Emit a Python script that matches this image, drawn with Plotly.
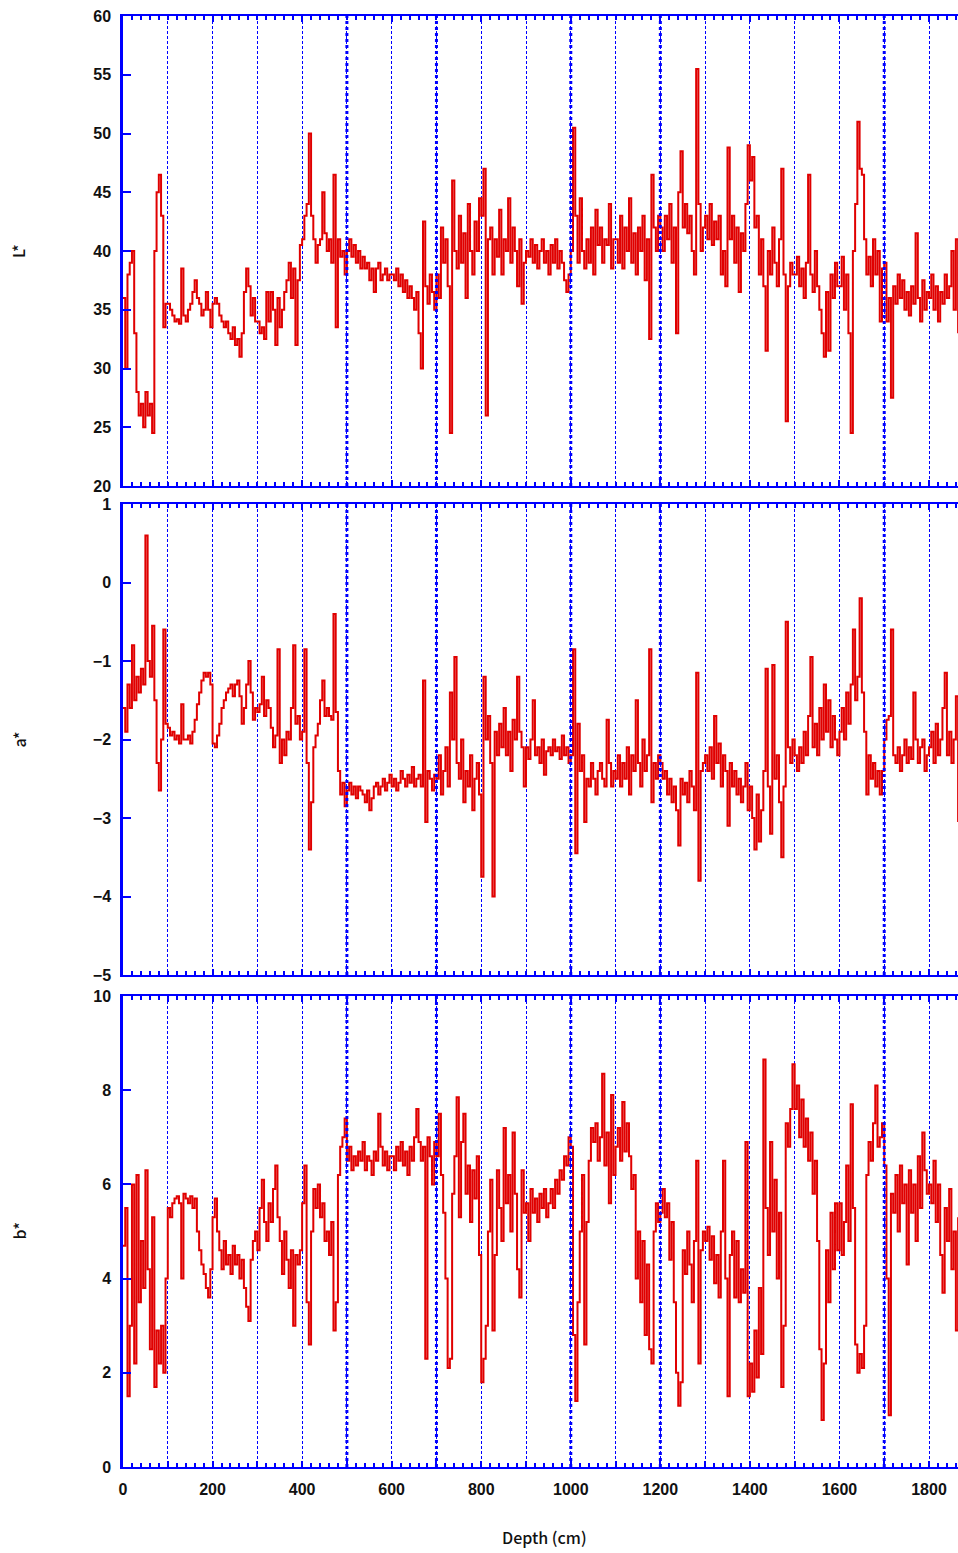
import plotly.graph_objects as go
from plotly.subplots import make_subplots

# Colour measurements down the core, one reading every 5 cm (0 - 1865 cm)
L_star = [
    36, 30, 38, 39, 40, 33, 28, 26, 27, 25, 28, 26, 27, 24.5, 40, 45, 46.5, 43, 33.5, 35.5,
    35.5, 35, 34.5, 34, 34.2, 33.8, 38.5, 34.5, 34, 35, 35.5, 36.5, 37.5, 36, 35.5, 34.5, 35, 36.5, 35, 33.5,
    35.5, 36, 35.5, 34.5, 34, 33.5, 34, 33, 32.5, 33.5, 32, 32.5, 31, 33, 36.5, 38.5, 37, 34.5, 36, 34,
    34, 33, 33.5, 32.5, 36.5, 34, 36.5, 35, 32, 36, 33.5, 35, 36.5, 37.5, 39, 36, 38.5, 32, 37.5, 40.5,
    41, 43, 44, 50, 43, 41, 39, 40.5, 41, 45, 41.5, 40, 41, 39, 46.5, 33.5, 41, 39.5, 40, 38,
    40, 41, 39.5, 40.5, 39, 40, 38.5, 39.5, 38.5, 39, 37.5, 38.5, 36.5, 38.5, 39, 37.5, 38, 38.5, 37.5, 38,
    38, 37.5, 38.5, 37, 38, 36.5, 37.5, 36, 37, 36, 35, 36.5, 33, 30, 42.5, 37, 35.5, 38, 36.5, 35,
    38, 36, 42, 39, 41, 37, 24.5, 46, 40, 38.5, 43, 39, 41.5, 36, 44, 40, 38, 42.5, 40, 44.5,
    43, 47, 26, 41, 42, 38, 41, 39.5, 43.5, 38, 41, 40, 44.5, 39, 42, 40, 37, 41, 35.5, 39,
    40, 39.5, 41, 39, 40.5, 38.5, 40, 41, 39, 40, 38, 40.5, 39, 41, 38.5, 40, 39, 37.5, 36.5, 38,
    40, 50.5, 43, 39, 44.5, 40, 38.5, 41, 39, 42, 38, 43.5, 40.5, 42, 39, 41, 40.5, 44, 38.5, 41,
    41, 39, 43, 38.5, 42, 40, 44.5, 39, 41.5, 38, 42, 40, 43, 37.5, 41, 32.5, 46.5, 42, 40, 43,
    42, 40, 43, 41, 44, 39, 42, 33, 45, 48.5, 42, 44, 41.5, 43, 40, 38, 55.5, 44, 40, 42,
    43, 41, 44, 40.5, 42.5, 41, 43, 38, 40, 37, 48.8, 41, 43, 39, 42, 36.5, 41.5, 40, 44, 49,
    46, 48, 42, 43, 38, 41, 37, 31.5, 40, 38, 42, 39, 37, 41, 47, 38, 25.5, 37, 39, 38,
    38, 39.5, 37, 38.5, 36, 39, 46.5, 38, 36.5, 40, 37, 35, 33, 31, 36.5, 31.5, 38, 36, 39, 37,
    37, 39.5, 35, 38, 33, 24.5, 40, 44, 51, 47, 46.5, 41, 38, 39.5, 37, 41, 38, 40, 34, 38.5,
    39, 34, 36, 27.5, 37, 35.5, 38, 36, 37.5, 35, 36.5, 34.5, 37, 35.5, 41.5, 36, 34, 37.5, 35, 36.5,
    36, 38, 35, 37, 34, 36.5, 35.5, 38, 36, 37, 40, 35, 41, 33,
]

a_star = [
    -1.6, -1.9, -1.3, -1.6, -0.8, -1.5, -1.2, -1.4, -1.1, -1.3, 0.6, -1.0, -1.2, -0.55, -1.5, -2.3, -2.65, -2.0, -0.6, -1.8,
    -1.85, -1.95, -1.9, -2.0, -1.95, -2.05, -1.55, -2.0, -2.0, -1.95, -2.05, -1.9, -1.75, -1.55, -1.4, -1.25, -1.15, -1.2, -1.15, -1.3,
    -2.05, -2.1, -1.95, -1.8, -1.6, -1.5, -1.4, -1.35, -1.3, -1.45, -1.3, -1.25, -1.45, -1.8, -1.6, -1.3, -1.0, -1.4, -1.75, -1.6,
    -1.65, -1.55, -1.2, -1.7, -1.5, -1.6, -1.85, -2.1, -1.95, -0.85, -2.3, -2.0, -2.2, -1.9, -2.0, -1.6, -0.8, -1.8, -1.7, -2.0,
    -1.9, -0.85, -2.3, -3.4, -2.8, -2.1, -1.95, -1.8, -1.5, -1.25, -1.7, -1.6, -1.7, -1.75, -0.4, -1.65, -2.4, -2.7, -2.55, -2.85,
    -2.65, -2.55, -2.7, -2.6, -2.75, -2.6, -2.65, -2.7, -2.8, -2.65, -2.9, -2.75, -2.6, -2.55, -2.7, -2.6, -2.5, -2.65, -2.55, -2.45,
    -2.6, -2.5, -2.65, -2.55, -2.4, -2.5, -2.6, -2.45, -2.55, -2.35, -2.6, -2.5, -2.45, -2.6, -1.25, -3.05, -2.4, -2.5, -2.65, -2.45,
    -2.5, -2.2, -2.7, -2.4, -2.1, -2.6, -1.4, -2.0, -0.95, -2.3, -2.5, -2.0, -2.8, -2.4, -2.6, -2.2, -2.9, -2.5, -2.3, -2.7,
    -3.75, -1.2, -2.0, -1.7, -2.3, -4.0, -1.9, -2.2, -1.8, -2.1, -1.6, -2.2, -1.9, -2.4, -1.75, -2.0, -1.2, -1.9, -2.1, -2.6,
    -2.1, -2.25, -2.0, -1.5, -2.2, -2.1, -2.3, -2.0, -2.45, -2.15, -2.1, -2.2, -2.0, -2.15, -2.1, -2.25, -1.95, -2.2, -2.1, -2.3,
    -2.2, -0.85, -3.45, -1.8, -2.4, -2.2, -3.05, -2.5, -2.6, -2.3, -2.5, -2.7, -2.4, -2.3, -2.5, -2.6, -1.75, -2.3, -2.6, -2.4,
    -2.5, -2.2, -2.6, -2.3, -2.5, -2.1, -2.7, -2.2, -2.4, -1.5, -2.3, -2.6, -2.0, -2.4, -2.2, -0.85, -2.8, -2.3, -2.5, -2.2,
    -2.3, -2.5, -2.4, -2.7, -2.5, -2.8, -2.6, -2.9, -3.35, -2.5, -2.7, -2.55, -2.8, -2.4, -2.6, -2.9, -1.15, -3.8, -2.4, -2.3,
    -2.2, -2.4, -2.1, -2.5, -1.7, -2.3, -2.05, -2.6, -2.2, -2.4, -3.1, -2.3, -2.6, -2.4, -2.7, -2.5, -2.8, -2.6, -2.3, -2.9,
    -2.6, -3.0, -3.4, -2.7, -3.3, -2.9, -2.4, -1.1, -2.6, -3.2, -1.05, -2.5, -2.2, -2.8, -3.5, -2.6, -0.5, -2.1, -2.3, -2.0,
    -2.2, -2.4, -2.1, -2.3, -1.9, -2.2, -1.7, -0.95, -2.1, -1.8, -2.2, -1.6, -2.0, -1.3, -1.9, -1.5, -2.1, -1.7, -2.0, -2.2,
    -1.9, -1.6, -2.0, -1.4, -1.8, -1.3, -0.6, -1.5, -1.2, -0.2, -1.4, -1.9, -2.7, -2.2, -2.5, -2.3, -2.6, -2.4, -2.7, -2.4,
    -2.0, -1.75, -1.7, -0.6, -2.2, -2.3, -2.1, -2.4, -2.2, -2.0, -2.3, -2.1, -2.25, -1.4, -2.0, -2.3, -2.1, -2.0, -2.4, -2.2,
    -2.1, -1.9, -2.3, -1.8, -2.2, -2.0, -1.6, -1.15, -2.2, -1.9, -2.3, -2.0, -1.45, -3.05,
]

b_star = [
    4.7, 5.5, 1.5, 3.0, 6.0, 2.2, 6.2, 3.5, 4.8, 3.8, 6.3, 4.2, 2.5, 5.3, 1.7, 2.9, 2.2, 3.0, 2.0, 4.0,
    5.5, 5.3, 5.6, 5.7, 5.75, 5.6, 4.0, 5.8, 5.7, 5.6, 5.75, 5.5, 5.7, 5.0, 4.6, 4.3, 4.1, 3.8, 3.6, 4.2,
    5.3, 5.7, 5.0, 4.6, 4.2, 4.8, 4.3, 4.5, 4.1, 4.7, 4.3, 4.5, 4.0, 4.4, 3.8, 3.4, 3.1, 4.4, 4.8, 5.0,
    4.6, 5.5, 6.1, 5.2, 4.8, 5.6, 5.2, 5.9, 6.4, 5.3, 4.8, 4.1, 5.0, 4.4, 3.8, 4.6, 3.0, 4.5, 4.3, 4.6,
    5.6, 6.4, 3.5, 2.6, 5.0, 5.9, 5.5, 6.0, 5.3, 5.6, 4.8, 5.0, 4.5, 5.2, 2.9, 3.5, 6.2, 6.8, 7.0, 7.4,
    6.5, 6.8, 6.3, 6.6, 6.4, 6.7, 6.5, 6.9, 6.3, 6.6, 6.5, 6.2, 6.7, 6.5, 7.5, 6.8, 6.4, 6.7, 6.3, 6.6,
    6.6, 6.3, 6.8, 6.5, 6.9, 6.4, 6.7, 6.2, 6.8, 6.5, 7.0, 7.6, 6.9, 6.5, 6.8, 2.3, 7.0, 6.6, 6.0, 6.9,
    6.6, 7.5, 6.2, 5.4, 4.0, 2.1, 2.3, 5.8, 6.6, 7.85, 5.3, 6.9, 7.5, 5.8, 6.4, 5.2, 6.3, 5.7, 6.6, 4.5,
    1.8, 2.3, 3.0, 5.0, 6.1, 2.9, 4.5, 6.3, 5.5, 4.8, 7.2, 5.6, 6.2, 5.0, 7.1, 5.8, 4.2, 3.6, 6.3, 5.4,
    5.6, 4.8, 5.9, 5.4, 5.7, 5.2, 5.8, 5.5, 5.9, 5.3, 5.6, 5.9, 5.5, 6.1, 5.8, 6.3, 6.1, 6.6, 6.4, 7.0,
    6.8, 2.8, 1.4, 3.5, 5.0, 6.2, 2.6, 5.2, 6.5, 7.2, 6.9, 7.3, 6.5, 7.0, 8.35, 6.4, 7.1, 5.6, 7.9, 6.2,
    6.8, 7.2, 6.5, 7.75, 6.7, 7.3, 6.6, 5.9, 6.2, 4.0, 5.0, 3.5, 4.8, 2.8, 4.3, 2.5, 2.2, 5.0, 5.6, 5.2,
    5.4, 5.9, 5.3, 5.6, 4.4, 5.2, 3.5, 2.0, 1.3, 1.8, 4.6, 4.1, 5.0, 4.3, 3.5, 4.8, 6.5, 2.2, 4.6, 5.0,
    4.8, 5.1, 4.4, 4.9, 3.9, 4.5, 3.6, 5.0, 6.5, 4.0, 1.5, 4.5, 5.0, 3.6, 4.8, 3.5, 4.2, 3.7, 6.9, 1.5,
    2.2, 1.6, 2.9, 1.9, 3.8, 2.4, 8.65, 5.5, 4.5, 6.9, 5.0, 6.1, 4.0, 5.4, 1.7, 3.0, 7.3, 6.8, 7.6, 8.55,
    7.6, 8.1, 7.0, 7.8, 6.8, 7.4, 6.5, 7.1, 5.8, 6.5, 4.8, 2.5, 1.0, 2.2, 4.6, 3.5, 5.4, 4.2, 5.6, 4.6,
    5.6, 4.5, 5.2, 6.4, 4.8, 7.7, 5.5, 2.6, 2.0, 2.4, 2.1, 3.0, 6.2, 6.9, 6.5, 7.3, 8.1, 6.8, 7.0, 7.3,
    6.4, 4.0, 1.1, 5.8, 5.4, 6.2, 5.0, 6.4, 5.6, 6.0, 4.3, 6.3, 5.4, 6.0, 4.8, 6.6, 5.5, 7.1, 6.3, 5.8,
    6.0, 5.6, 6.5, 5.2, 6.0, 4.5, 3.7, 5.5, 4.8, 5.9, 4.2, 5.0, 2.9, 5.3,
]

depth_cm = list(range(0, 5 * len(L_star), 5))

# Core section boundaries, drawn heavier than the 100 cm grid
section_breaks = [500, 700, 1000, 1200, 1700]

panels = [
    ("L*", L_star, [20, 60], 5),
    ("a*", a_star, [-5, 1], 1),
    ("b*", b_star, [0, 10], 2),
]

BLUE = "#0000ff"
RED = "#e00000"
W, H = 958, 1553
left, top_px, bottom_px = 123, 16, 1467
plot_h = bottom_px - top_px
panel_px = [(16, 486), (504, 975), (996, 1467)]

fig = make_subplots(rows=3, cols=1)

major_x = list(range(0, 1900, 100))
major_txt = [str(v) if v % 200 == 0 else "" for v in major_x]

for i, (name, values, yrange, dy) in enumerate(panels):
    row = i + 1
    fig.add_trace(
        go.Scatter(x=depth_cm, y=values, mode="lines", line=dict(color=RED, width=2, shape="hv"),
                   showlegend=False, hoverinfo="skip"),
        row=row, col=1,
    )
    y0, y1 = panel_px[i]
    dom = [(bottom_px - y1) / plot_h, (bottom_px - y0) / plot_h]
    fig.update_yaxes(
        row=row, col=1, domain=dom, range=yrange, dtick=dy, tick0=yrange[0],
        showline=True, linecolor=BLUE, linewidth=2.5, mirror=False,
        ticks="inside", ticklen=8, tickwidth=2, tickcolor=BLUE,
        showgrid=False, zeroline=False,
        tickfont=dict(family="Liberation Sans, Arial", size=16, color="#111", weight="bold"),
        ticklabelstandoff=6,
    )
    fig.update_xaxes(
        row=row, col=1, range=[0, (W - left) / 0.44778],
        showline=True, linecolor=BLUE, linewidth=2, mirror="ticks",
        tickmode="array", tickvals=major_x, ticktext=major_txt,
        ticks="inside", ticklen=6, tickwidth=1.5, tickcolor=BLUE,
        showticklabels=(row == 3),
        showgrid=True, gridcolor=BLUE, gridwidth=1.2, griddash="3px,2px",
        minor=dict(dtick=20, tick0=0, ticks="inside", ticklen=4, tickwidth=1.5,
                   tickcolor=BLUE, showgrid=False),
        zeroline=False,
        tickfont=dict(family="Liberation Sans, Arial", size=16, color="#111", weight="bold"),
        ticklabelstandoff=7,
    )
    for d in section_breaks:
        fig.add_vline(x=d, line=dict(color=BLUE, width=3, dash="dot"), row=row, col=1)
    fig.add_annotation(
        text=name, xref="paper", yref="paper",
        x=(18 - left) / (W - left), y=(bottom_px - (y0 + y1) / 2) / plot_h,
        showarrow=False, textangle=-90, xanchor="center", yanchor="middle",
        font=dict(family="Noto Sans CJK JP", size=16, color="#111", weight=500),
    )

fig.add_annotation(
    text="Depth (cm)", xref="paper", yref="paper",
    x=(544 - left) / (W - left), y=(bottom_px - 1537) / plot_h,
    showarrow=False, xanchor="center", yanchor="middle",
    font=dict(family="Noto Sans CJK JP", size=16, color="#111", weight=500),
)

fig.update_layout(
    width=W, height=H,
    margin=dict(l=left, r=0, t=top_px, b=H - bottom_px),
    plot_bgcolor="white", paper_bgcolor="white",
)

fig.write_html("out.html")
